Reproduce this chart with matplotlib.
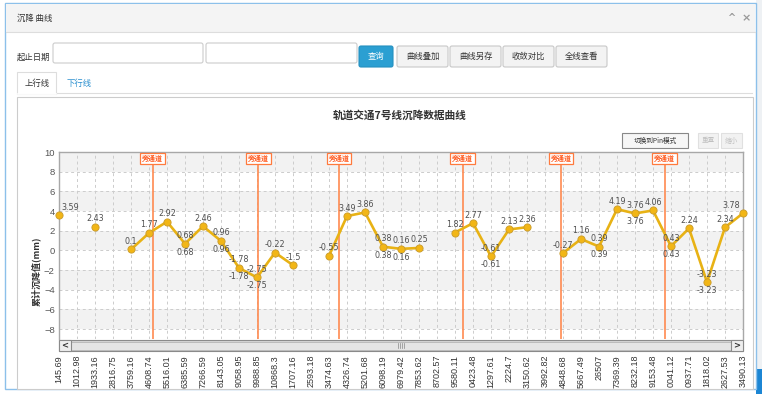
import numpy as np
import matplotlib
matplotlib.use("Agg")
import matplotlib.pyplot as plt
from matplotlib import patches

plt.rcParams['font.family'] = ['Noto Sans CJK SC', 'DejaVu Sans']

# ---- data ----
mileage = ["145.69", "1012.98", "1933.16", "2816.75", "3759.16", "4608.74", "5516.01",
           "6385.59", "7266.59", "8143.05", "9058.95", "9988.85", "10868.3", "1707.16",
           "2593.18", "3474.63", "4326.74", "5201.68", "6098.19", "6979.42", "7853.62",
           "8702.57", "9580.11", "0423.48", "1297.61", "2224.7", "3150.62", "3992.82",
           "4848.68", "5667.49", "26507", "7369.39", "8232.18", "9153.48", "0041.12",
           "0937.71", "1818.02", "2627.53", "3490.13"]
settle = [3.59, None, 2.43, None, 0.1, 1.77, 2.92, 0.68, 2.46, 0.96, -1.78, -2.75,
          -0.22, -1.5, None, -0.55, 3.49, 3.86, 0.38, 0.16, 0.25, None, 1.82, 2.77,
          -0.61, 2.13, 2.36, None, -0.27, 1.16, 0.39, 4.19, 3.76, 4.06, 0.43, 2.24,
          -3.23, 2.34, 3.78]
# points whose value label is printed a second time below the point
double_label = [7, 9, 10, 11, 18, 19, 24, 30, 32, 34, 36]
# cross passage markers (position on the category axis)
passages = [5.2, 11.08, 15.57, 22.42, 27.89, 33.65]
passage_name = "旁通道"

W, H = 762, 394
fig = plt.figure(figsize=(W / 100, H / 100), dpi=100)
fig.patch.set_facecolor("white")

# ---- page / UI drawn in pixel coordinates ----
ui = fig.add_axes([0, 0, 1, 1], zorder=0)
ui.set_xlim(0, W)
ui.set_ylim(H, 0)
ui.axis("off")


def rect(x0, y0, x1, y1, fc="none", ec="none", lw=1.0, r=0, z=1):
    if r:
        p = patches.FancyBboxPatch((x0, y0), x1 - x0, y1 - y0,
                                   boxstyle="round,pad=0,rounding_size=%g" % r,
                                   fc=fc, ec=ec, lw=lw, zorder=z)
    else:
        p = patches.Rectangle((x0, y0), x1 - x0, y1 - y0, fc=fc, ec=ec, lw=lw, zorder=z)
    ui.add_patch(p)


# outer panel + right page scrollbar
rect(756, 0, 762, 394, fc="#eef1f4", z=0)
rect(756, 369, 762, 394, fc="#1c86d4", z=1)
rect(5, 3, 756, 389, fc="white", ec="#8cc0ea", lw=1.0, z=1)
# title bar
rect(6, 4, 755, 32, fc="#f4f4f4", z=2)
ui.plot([6, 755], [32, 32], color="#dddddd", lw=0.8, zorder=3)
ui.text(17, 18, "沉降 曲线", fontsize=6, color="#333333", va="center", ha="left", zorder=4)
ui.text(731, 18, "^", fontsize=7, color="#999999", va="center", ha="center",
        fontweight="bold", family="DejaVu Sans", zorder=4)
ui.text(746, 18, "×", fontsize=8, color="#999999", va="center", ha="center",
        fontweight="bold", family="DejaVu Sans", zorder=4)

# query row
ui.text(17, 57, "起止日期", fontsize=6, color="#333333", va="center", ha="left", zorder=4)
rect(53, 43, 203, 63, fc="white", ec="#cccccc", lw=0.8, r=2, z=3)
rect(206, 43, 357, 63, fc="white", ec="#cccccc", lw=0.8, r=2, z=3)
rect(359, 46, 393, 67, fc="#2b9fd2", ec="#2590c0", lw=0.8, r=2, z=3)
ui.text(376, 56.5, "查询", fontsize=6, color="white", va="center", ha="center", zorder=4)
buttons = ["曲线叠加", "曲线另存", "收敛对比", "全线查看"]
bx = [397, 450, 503, 556]
for name, x0 in zip(buttons, bx):
    rect(x0, 46, x0 + 51, 67, fc="#f3f3f3", ec="#c8c8c8", lw=0.8, r=2, z=3)
    ui.text(x0 + 25.5, 56.5, name, fontsize=6, color="#333333", va="center",
            ha="center", zorder=4)

# tabs
ui.plot([56, 752], [93, 93], color="#dddddd", lw=0.8, zorder=3)
rect(17, 72, 56, 94, fc="white", ec="#dddddd", lw=0.8, z=3)
ui.plot([17.5, 55.5], [93.5, 93.5], color="white", lw=1.2, zorder=4)
ui.text(37, 83, "上行线", fontsize=6, color="#333333", va="center", ha="center", zorder=4)
ui.text(79, 83, "下行线", fontsize=6, color="#2a8fcf", va="center", ha="center", zorder=4)

# chart container
rect(17, 97, 753, 389, fc="white", ec="#cccccc", lw=0.8, z=2)
ui.text(400, 115, "轨道交通7号线沉降数据曲线", fontsize=7.7, fontweight="bold",
        color="#333333", va="center", ha="center", zorder=4)
ui.text(36, 271, "累计沉降值(mm)", fontsize=6.5, fontweight="bold", color="#333333",
        rotation=90, va="center", ha="center", zorder=4)

# chart tool buttons
rect(622, 133, 688, 148, fc="#f6f6f6", ec="#888888", lw=0.8, z=3)
ui.text(655, 140.5, "切换到Pin模式", fontsize=4.8, color="#333333", va="center",
        ha="center", zorder=4)
rect(698, 133, 718, 148, fc="#f2f2f2", ec="#e0e0e0", lw=0.8, z=3)
ui.text(708, 140.5, "重置", fontsize=4.8, color="#c0c0c0", va="center", ha="center", zorder=4)
rect(721, 133, 742, 148, fc="#f2f2f2", ec="#e0e0e0", lw=0.8, z=3)
ui.text(731.5, 140.5, "缩小", fontsize=4.8, color="#c0c0c0", va="center", ha="center", zorder=4)

# horizontal scrollbar under the plot
rect(59, 340, 743, 351, fc="#d6d6d6", ec="#8a8a8a", lw=0.8, z=3)
rect(71, 341.5, 731, 349.5, fc="#e4e4e4", ec="#b5b5b5", lw=0.6, z=3)
rect(59, 340, 71, 351, fc="#eeeeee", ec="#8a8a8a", lw=0.8, z=4)
rect(731, 340, 743, 351, fc="#eeeeee", ec="#8a8a8a", lw=0.8, z=4)
ui.text(65, 345.5, "<", fontsize=6, color="#333333", va="center", ha="center",
        family="DejaVu Sans", fontweight="bold", zorder=5)
ui.text(737, 345.5, ">", fontsize=6, color="#333333", va="center", ha="center",
        family="DejaVu Sans", fontweight="bold", zorder=5)
for gx in [397.5, 399.5, 401.5, 403.5]:
    ui.plot([gx, gx], [343, 348], color="#888888", lw=0.5, zorder=5)

# ---- the chart itself ----
ax = fig.add_axes([59 / W, 1 - 339 / H, (743 - 59) / W, (339 - 152) / H], zorder=1)
ax.set_facecolor("white")
x = np.arange(len(mileage))
y = np.array([np.nan if v is None else v for v in settle], dtype=float)

ax.set_xlim(0, len(mileage) - 1)
ax.set_ylim(-9, 10)
for lo in [8, 4, 0, -4, -8]:
    ax.axhspan(lo, lo + 2, color="#f2f2f2", lw=0, zorder=0)

ax.set_yticks(np.arange(-8, 11, 2))
ax.set_xticks(x)
ax.set_xticklabels(mileage, rotation=90, family="Liberation Sans", fontsize=6.5,
                   color="#333333", va="top", ha="center")
ax.tick_params(axis="x", length=0, pad=11.5)
ax.tick_params(axis="y", length=0, pad=3, labelsize=6.8, labelcolor="#555555")
for t in ax.get_yticklabels():
    t.set_family("Liberation Sans")
ax.grid(True, color="#cccccc", linestyle=(0, (3, 3)), lw=0.7, zorder=1)
ax.set_axisbelow(True)
for side in ["left", "top", "right"]:
    ax.spines[side].set_color("#a8a8a8")
    ax.spines[side].set_linewidth(1.0)
ax.spines["bottom"].set_visible(False)

# cross passage lines and their flags
for px in passages:
    ax.axvline(px, color="#ff8a50", lw=1.2, zorder=2)
    ax.text(px, 0.984, passage_name, transform=ax.get_xaxis_transform(),
            ha="center", va="top", fontsize=5, color="#ff5a1f", fontweight="bold",
            bbox=dict(boxstyle="square,pad=0.25", fc="white", ec="#ff7a3d", lw=0.9),
            zorder=6)

ax.plot(x, y, color="#e8b214", lw=1.9, marker="o", markersize=5.2,
        markerfacecolor="#f2b616", markeredgecolor="#c99a2a", markeredgewidth=0.6,
        zorder=4, clip_on=False)

for i, v in enumerate(settle):
    if v is None:
        continue
    txt = "%g" % v
    ha, dx = "center", 0
    if i == 0:
        ha, dx = "left", 2
    elif i == len(settle) - 1:
        ha, dx = "right", -2
    ax.annotate(txt, (i, v), xytext=(dx, 5.8), textcoords="offset points",
                ha=ha, va="center", fontsize=5.8, color="#505050",
                family="DejaVu Sans", zorder=5)
    if i in double_label:
        ax.annotate(txt, (i, v), xytext=(dx, -6.0), textcoords="offset points",
                    ha=ha, va="center", fontsize=5.8, color="#505050",
                    family="DejaVu Sans", zorder=5)

fig.savefig("out.png", dpi=100)
